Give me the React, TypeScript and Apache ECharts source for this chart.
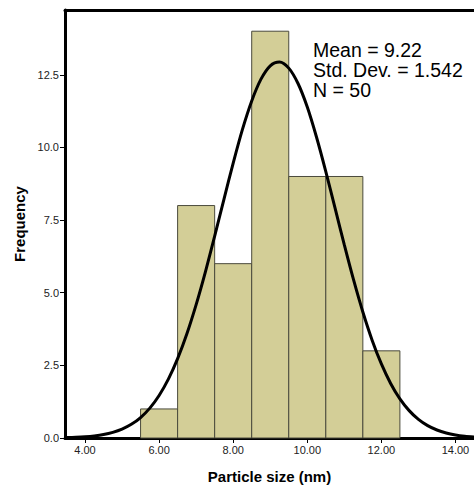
import React, { useEffect, useRef } from "react";
import * as echarts from "echarts";

const binStarts = [5.5, 6.5, 7.5, 8.5, 9.5, 10.5, 11.5];
const binEnds = [6.5, 7.5, 8.5, 9.5, 10.5, 11.5, 12.5];
const counts = [1, 8, 6, 14, 9, 9, 3];

const curveX = [
  3.5, 3.75, 4.0, 4.25, 4.5, 4.75, 5.0, 5.25, 5.5, 5.75, 6.0, 6.25, 6.5, 6.75, 7.0, 7.25, 7.5, 7.75, 8.0, 8.25, 8.5, 8.75,
  9.0, 9.25, 9.5, 9.75, 10.0, 10.25, 10.5, 10.75, 11.0, 11.25, 11.5, 11.75, 12.0, 12.25, 12.5, 12.75, 13.0, 13.25, 13.5,
  13.75, 14.0, 14.25, 14.5,
];
const curveY = [
  0.013, 0.024, 0.042, 0.072, 0.119, 0.194, 0.306, 0.47, 0.705, 1.029, 1.462, 2.025, 2.73, 3.587, 4.591, 5.721, 6.948,
  8.216, 9.462, 10.62, 11.6, 12.35, 12.81, 12.94, 12.73, 12.2, 11.39, 10.35, 9.168, 7.91, 6.646, 5.44, 4.337, 3.368, 2.548,
  1.878, 1.347, 0.942, 0.641, 0.425, 0.275, 0.173, 0.106, 0.063, 0.037,
];

const xTicks = [4, 6, 8, 10, 12, 14];
const yTicks = [0, 2.5, 5, 7.5, 10, 12.5];

const statLines = ["Mean = 9.22", "Std. Dev. = 1.542", "N = 50"];

export default function App() {
  const ref = useRef<HTMLDivElement>(null);
  useEffect(() => {
    if (!ref.current) return;
    const chart = echarts.init(ref.current, null, { renderer: "svg" });
    const font = "Arial, 'Liberation Sans', sans-serif";
    chart.setOption({
      animation: false,
      textStyle: { fontFamily: font },
      grid: { left: 65, top: 10, right: 0, bottom: 49 },
      xAxis: [
        {
          type: "value",
          min: 3.46,
          max: 14.5,
          splitLine: { show: false },
          axisLine: { show: true, lineStyle: { color: "#000", width: 3 } },
          axisTick: { show: true, length: 5, customValues: xTicks, lineStyle: { color: "#000", width: 1 } },
          axisLabel: {
            customValues: xTicks,
            formatter: (v: number) => v.toFixed(2),
            fontSize: 11,
            color: "#222",
            fontFamily: font,
            margin: 6,
          },
          name: "Particle size (nm)",
          nameLocation: "middle",
          nameGap: 31,
          nameTextStyle: { fontSize: 15, fontWeight: "bold", color: "#000", fontFamily: font },
        },
        {
          type: "value",
          position: "top",
          min: 3.46,
          max: 14.5,
          splitLine: { show: false },
          axisLine: { show: true, lineStyle: { color: "#000", width: 3 } },
          axisTick: { show: false },
          axisLabel: { show: false },
        },
      ],
      yAxis: {
        type: "value",
        min: 0,
        max: 14.73,
        splitLine: { show: false },
        axisLine: { show: true, lineStyle: { color: "#000", width: 3 } },
        axisTick: { show: true, length: 5, customValues: yTicks, lineStyle: { color: "#000", width: 1 } },
        axisLabel: {
          customValues: yTicks,
          formatter: (v: number) => v.toFixed(1),
          fontSize: 11,
          color: "#222",
          fontFamily: font,
          margin: 6,
        },
        name: "Frequency",
        nameLocation: "middle",
        nameRotate: 90,
        nameGap: 38,
        nameTextStyle: { fontSize: 15, fontWeight: "bold", color: "#000", fontFamily: font },
      },
      series: [
        {
          type: "custom",
          xAxisIndex: 0,
          data: counts.map((c, i) => [binStarts[i], binEnds[i], c]),
          renderItem: (params: any, api: any) => {
            const p0 = api.coord([api.value(0), api.value(2)]);
            const p1 = api.coord([api.value(1), 0]);
            return {
              type: "rect",
              shape: { x: p0[0], y: p0[1], width: p1[0] - p0[0], height: p1[1] - p0[1] },
              style: { fill: "#d3ce97", stroke: "#4a4a3c", lineWidth: 1 },
            };
          },
          z: 2,
        },
        {
          type: "line",
          xAxisIndex: 0,
          data: curveX.map((x, i) => [x, curveY[i]]),
          smooth: 0.3,
          symbol: "none",
          lineStyle: { color: "#000", width: 3 },
          z: 3,
        },
      ],
      graphic: [
        {
          type: "text",
          left: 313,
          top: 40,
          style: {
            text: statLines.join("\n"),
            font: `19.5px ${font}`,
            lineHeight: 20,
            fill: "#000",
          },
          z: 10,
        },
      ],
    });
    return () => chart.dispose();
  }, []);
  return (
    <div
      ref={ref}
      style={{ position: "absolute", left: 0, top: 0, width: 474, height: 489, overflow: "hidden" }}
    />
  );
}
